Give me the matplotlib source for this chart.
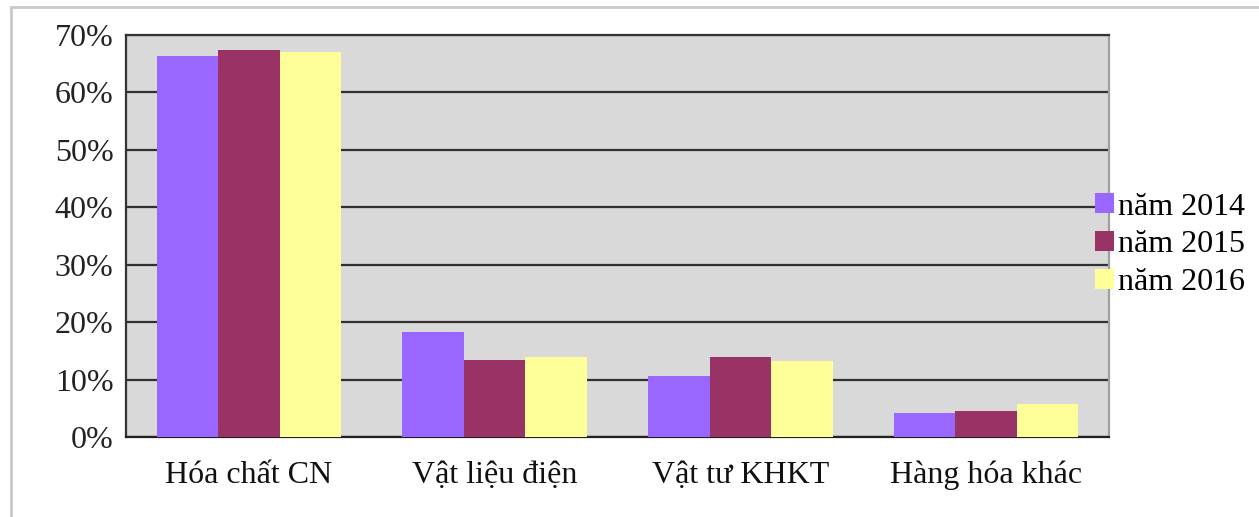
import matplotlib.pyplot as plt
import numpy as np
from matplotlib.lines import Line2D

plt.rcParams['font.family'] = ['Liberation Serif', 'DejaVu Serif']

categories = ['Hóa chất CN', 'Vật liệu điện', 'Vật tư KHKT', 'Hàng hóa khác']
series = ['năm 2014', 'năm 2015', 'năm 2016']
v2014 = [66.4, 18.2, 10.6, 4.2]
v2015 = [67.4, 13.4, 14.0, 4.6]
v2016 = [67.0, 14.0, 13.3, 5.7]
colors = ['#9966FF', '#993366', '#FFFF99']
y_ticks = [0, 10, 20, 30, 40, 50, 60, 70]

fig = plt.figure(figsize=(12.59, 5.17), dpi=100)
ax = fig.add_axes([126 / 1259, 1 - 437 / 517, (1109 - 126) / 1259, (437 - 35) / 517])
ax.set_facecolor('#D9D9D9')

x = np.arange(len(categories))
w = 0.25
for i, (vals, lab) in enumerate(zip([v2014, v2015, v2016], series)):
    ax.bar(x + (i - 1) * w, vals, width=w, color=colors[i], label=lab, zorder=3)

ax.set_xlim(-0.5, len(categories) - 0.5)
ax.set_ylim(0, 70)
ax.set_yticks(y_ticks)
ax.set_yticklabels([f'{t}%' for t in y_ticks])
ax.set_xticks(x)
ax.set_xticklabels(categories)
ax.tick_params(axis='y', length=0, pad=9, labelsize=23, colors='#222222')
ax.tick_params(axis='x', length=0, pad=17, labelsize=23, colors='#111111')

ax.set_axisbelow(True)
ax.yaxis.grid(True, color='#303030', linewidth=1.6)

for side in ['left', 'top']:
    ax.spines[side].set_color('#333333')
    ax.spines[side].set_linewidth(1.6)
ax.spines['bottom'].set_color('#222222')
ax.spines['bottom'].set_linewidth(1.6)
ax.spines['right'].set_color('#A0A0A0')
ax.spines['right'].set_linewidth(1.6)

ax.legend(loc='center left', bbox_to_anchor=(1095 / 1259, 1 - 245 / 517),
          bbox_transform=fig.transFigure, frameon=False, fontsize=23,
          handlelength=0.6, handleheight=0.6, handletextpad=0.12,
          labelspacing=0.28, borderpad=0, borderaxespad=0)

# outer frame (top and left edges visible)
fig.add_artist(Line2D([11 / 1259, 1.0], [1 - 7 / 517, 1 - 7 / 517],
                      transform=fig.transFigure, color='#C8C8C8', linewidth=2))
fig.add_artist(Line2D([11 / 1259, 11 / 1259], [0, 1 - 7 / 517],
                      transform=fig.transFigure, color='#C8C8C8', linewidth=2))

fig.savefig('out.png', dpi=100)
